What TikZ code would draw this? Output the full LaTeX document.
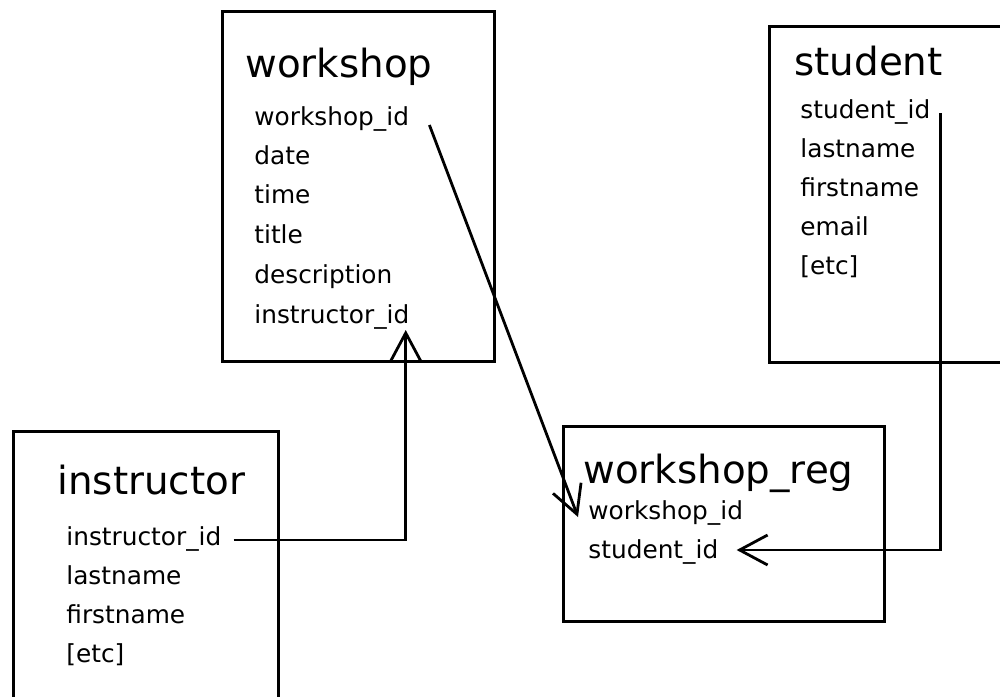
\documentclass[tikz,border=0pt]{standalone}
\usepackage{fontspec}
\setmainfont{DejaVu Sans}
\usetikzlibrary{arrows.meta,calc}

\begin{document}
\begin{tikzpicture}[
    x=0.5pt, y=-0.5pt,
    tbl/.style={rectangle, draw, line width=1.5pt, anchor=north west,
                inner sep=0pt},
    ttl/.style={anchor=base west, inner sep=0pt,
                font=\fontsize{19.4}{23}\selectfont},
    fld/.style={anchor=base west, inner sep=0pt,
                font=\fontsize{12.4}{14}\selectfont},
    fk/.style={-{Straight Barb[length=14pt, width=15pt, line width=1.4pt]},
               line width=1.4pt},
  ]
  \useasboundingbox (0,0) rectangle (1000,696);

  % ===== workshop =====
  \node[tbl, minimum width=136pt, minimum height=175pt] (workshop) at (221,10) {};
  \node[ttl] (ws-title) at (245,77) {workshop};
  \node[fld] (ws-id)   at (254,125) {workshop\_id};
  \node[fld] (ws-date) at (254,164) {date};
  \node[fld] (ws-time) at (254,203) {time};
  \node[fld] (ws-titl) at (254,243) {title};
  \node[fld] (ws-desc) at (254,283) {description};
  \node[fld] (ws-ins)  at (254,323) {instructor\_id};

  % ===== student =====
  \node[tbl, minimum width=125pt, minimum height=168pt] (student) at (768,25) {};
  \node[ttl] (st-title) at (794,75) {student};
  \node[fld] (st-id)    at (800,118) {student\_id};
  \node[fld] (st-last)  at (800,157) {lastname};
  \node[fld] (st-first) at (800,196) {firstname};
  \node[fld] (st-email) at (800,235) {email};
  \node[fld] (st-etc)   at (800,274) {[etc]};

  % ===== instructor =====
  \node[tbl, minimum width=132.5pt, minimum height=150pt] (instructor) at (12,430) {};
  \node[ttl] (in-title) at (57,494) {instructor};
  \node[fld] (in-id)    at (66,545) {instructor\_id};
  \node[fld] (in-last)  at (66,584) {lastname};
  \node[fld] (in-first) at (66,623) {firstname};
  \node[fld] (in-etc)   at (66,662) {[etc]};

  % ===== workshop_reg =====
  \node[tbl, minimum width=160.5pt, minimum height=97.5pt] (wreg) at (562,425) {};
  \node[ttl] (wr-title) at (583,483) {workshop\_reg};
  \node[fld] (wr-ws)    at (588,519) {workshop\_id};
  \node[fld] (wr-st)    at (588,558) {student\_id};

  % foreign keys
  \draw[fk] ($(ws-id.base east)+(20,0)$) -- ($(wr-ws.base west)+(-10,-2)$);
  \draw[fk] ($(in-id.base east)+(12,-5)$) -| ($(ws-ins.base east)+(-4,7)$);
  \draw[fk] ($(st-id.base east)+(10,-5)$) |- ($(wr-st.base east)+(18,-8)$);
\end{tikzpicture}
\end{document}
